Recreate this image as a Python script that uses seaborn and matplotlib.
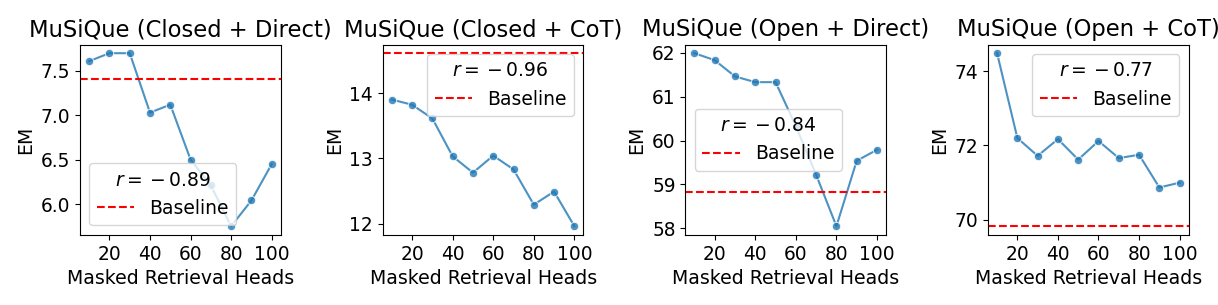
import matplotlib
matplotlib.use("Agg")
import matplotlib.pyplot as plt
import seaborn as sns
import pandas as pd

heads = [10, 20, 30, 40, 50, 60, 70, 80, 90, 100]

titles = ["MuSiQue (Closed + Direct)", "MuSiQue (Closed + CoT)",
          "MuSiQue (Open + Direct)", "MuSiQue (Open + CoT)"]

closed_direct = [7.61, 7.70, 7.70, 7.03, 7.12, 6.50, 6.21, 5.75, 6.04, 6.45]
closed_cot = [13.90, 13.82, 13.61, 13.03, 12.78, 13.04, 12.83, 12.29, 12.49, 11.96]
open_direct = [61.99, 61.83, 61.46, 61.33, 61.33, 60.33, 59.22, 58.05, 59.54, 59.79]
open_cot = [74.48, 72.20, 71.72, 72.17, 71.62, 72.12, 71.66, 71.75, 70.87, 71.00]

baselines = [7.41, 14.61, 58.84, 69.83]
r_values = [-0.89, -0.96, -0.84, -0.77]
legend_locs = ["lower left", "upper right", "center left", "upper right"]

series = [closed_direct, closed_cot, open_direct, open_cot]

fig, axes = plt.subplots(1, 4, figsize=(12.18, 3.05), dpi=100)
fig.subplots_adjust(left=0.0657, right=0.976, bottom=0.23, top=0.854, wspace=0.507)

for ax, title, vals, base, r, loc in zip(axes, titles, series, baselines, r_values, legend_locs):
    df = pd.DataFrame({"heads": heads, "em": vals})
    sns.lineplot(data=df, x="heads", y="em", marker="o", ax=ax, alpha=0.8,
                 color="#1f77b4", markersize=6)
    ax.axhline(base, color="red", linestyle="--", label="Baseline")
    ax.set_title(title, fontsize=16.3)
    ax.set_xlabel("Masked Retrieval Heads", fontsize=13.6)
    ax.set_ylabel("EM", fontsize=13.6)
    ax.tick_params(labelsize=13.4)
    ax.set_xticks([20, 40, 60, 80, 100])
    ax.legend(title=r"$r = {}-%.2f$" % abs(r), fontsize=13.5, title_fontsize=13.5, loc=loc)

fig.savefig("out.png", dpi=100)
